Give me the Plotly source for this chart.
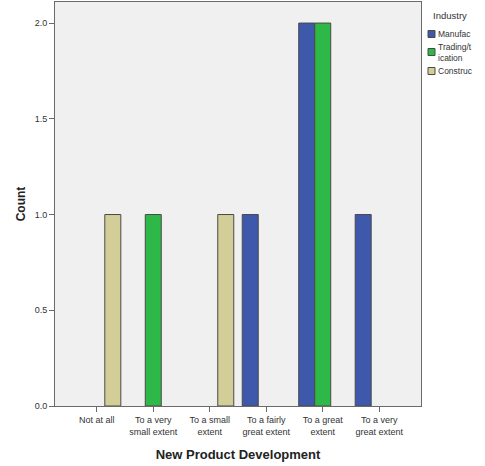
import plotly.graph_objects as go

categories = ["Not at all", "To a very<br>small extent", "To a small<br>extent",
              "To a fairly<br>great extent", "To a great<br>extent", "To a very<br>great extent"]
series_names = ["Manufacturing", "Trading/Communication", "Construction"]
legend_labels = ["Manufac", "Trading/t<br>ication", "Construc"]
manufacturing = [None, None, None, 1, 2, 1]
trading = [None, 1, None, None, 2, None]
construction = [1, None, 1, None, None, None]
colors = ["#3E58AC", "#2EB848", "#D3CE97"]
y_ticks = [0.0, 0.5, 1.0, 1.5, 2.0]

fig = go.Figure()
for name, vals, col in zip(series_names, [manufacturing, trading, construction], colors):
    fig.add_trace(go.Bar(
        x=list(range(len(categories))), y=vals, name=name,
        marker=dict(color=col, line=dict(color="#4a4a4a", width=1)),
        showlegend=False,
    ))

W, H = 485, 466
L, R, T, B = 55, 64, 2, 60
fig.update_layout(
    width=W, height=H,
    margin=dict(l=L, r=R, t=T, b=B),
    barmode="group", bargap=0.15, bargroupgap=0,
    paper_bgcolor="white", plot_bgcolor="#f0f0f0",
    font=dict(family="Liberation Sans, Arial, sans-serif", color="#333333", size=9),
    xaxis=dict(
        tickmode="array", tickvals=list(range(len(categories))), ticktext=categories,
        range=[-0.74, 5.74], showgrid=False, zeroline=False,
        showline=True, mirror=True, linecolor="#6a6a6a", linewidth=1,
        ticks="outside", ticklen=5, tickcolor="#6a6a6a",
        tickfont=dict(size=9, color="#333333"),
        title=dict(text="<b>New Product Development</b>", font=dict(size=13, color="#222222"), standoff=14),
    ),
    yaxis=dict(
        range=[0, 2.11], tickvals=y_ticks, tickformat=".1f",
        showgrid=False, zeroline=False,
        showline=True, mirror=True, linecolor="#6a6a6a", linewidth=1,
        ticks="outside", ticklen=5, tickcolor="#6a6a6a",
        tickfont=dict(size=9, color="#333333"),
        title=dict(text="<b>Count</b>", font=dict(size=12, color="#222222"), standoff=6),
    ),
)

# manual legend (paper pixel positions converted to paper fractions)
def px(x):
    return (x - L) / (W - L - R)

def py(y):
    return 1 - (y - T) / (H - T - B)

fig.add_annotation(x=px(431), y=py(15), xref="paper", yref="paper", text="Industry",
                   showarrow=False, xanchor="left", yanchor="middle",
                   font=dict(size=9.5, color="#333333"))
sw_y = [34, 52, 71]
txt_y = [34, 52, 71]
for col, lab, sy, ty in zip(colors, legend_labels, sw_y, txt_y):
    fig.add_shape(type="rect", xref="paper", yref="paper",
                  x0=px(428), x1=px(435), y0=py(sy - 3.5), y1=py(sy + 3.5),
                  fillcolor=col, line=dict(color="#4a4a4a", width=1))
    fig.add_annotation(x=px(436), y=py(ty), xref="paper", yref="paper", text=lab,
                       showarrow=False, xanchor="left", yanchor="middle", align="left",
                       font=dict(size=8.5, color="#333333"))

fig.write_html("out.html", config={"displayModeBar": False},
               post_script="document.body.style.margin='0';document.body.style.overflow='hidden';")
